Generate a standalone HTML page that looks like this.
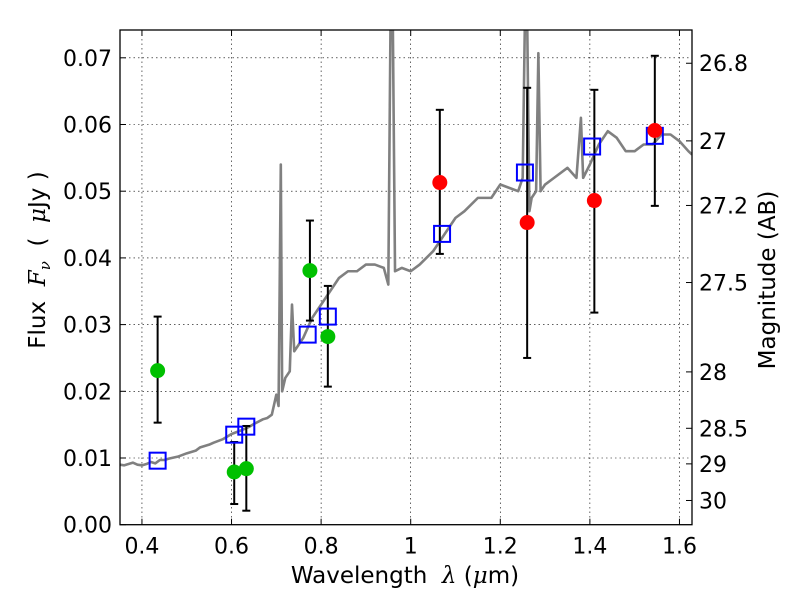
<!DOCTYPE html>
<html><head><meta charset="utf-8"><style>
body{margin:0;background:#fff}
svg{display:block;font-family:"DejaVu Sans","Liberation Sans",sans-serif}
</style></head><body>
<svg id="chart" width="800" height="600">
<g id="grid"></g>
<g id="spec"></g>
<g id="marks"></g>
<g id="axes"></g>
<text x="405" y="583" font-size="23" text-anchor="middle">Wavelength&#160;&#160;<tspan font-style="italic" font-family="DejaVu Serif">λ</tspan>&#160;(<tspan font-style="italic" font-family="DejaVu Serif">μ</tspan>m)</text>
<text transform="translate(45,260) rotate(-90)" font-size="23" text-anchor="middle">Flux&#160;&#160;<tspan font-style="italic" font-family="DejaVu Serif">F</tspan><tspan font-style="italic" font-family="DejaVu Serif" font-size="15" dy="5">ν</tspan><tspan dy="-5">&#160;&#160;(&#160;&#160;</tspan><tspan font-style="italic" font-family="DejaVu Serif">μ</tspan>Jy&#160;)</text>
<text transform="translate(775,280) rotate(-90)" font-size="23" text-anchor="middle">Magnitude (AB)</text>
</svg>
<script>
const xTicks=[0.4,0.6,0.8,1,1.2,1.4,1.6];
const xTickLabels=["0.4","0.6","0.8","1","1.2","1.4","1.6"];
const yTicks=[0,0.01,0.02,0.03,0.04,0.05,0.06,0.07];
const yTickLabels=["0.00","0.01","0.02","0.03","0.04","0.05","0.06","0.07"];
const magTicks=[26.8,27,27.2,27.5,28,28.5,29,30];
const magTickLabels=["26.8","27","27.2","27.5","28","28.5","29","30"];
const specWave=[0.35,0.36,0.37,0.38,0.39,0.40,0.41,0.42,0.43,0.44,0.45,0.46,0.48,0.5,0.52,0.53,0.55,0.56,0.58,0.6,0.62,0.64,0.65,0.67,0.68,0.69,0.70,0.705,0.71,0.713,0.72,0.73,0.735,0.74,0.75,0.76,0.78,0.80,0.82,0.84,0.86,0.88,0.9,0.92,0.94,0.95,0.955,0.96,0.965,0.98,1.0,1.02,1.05,1.08,1.1,1.12,1.15,1.18,1.2,1.22,1.24,1.25,1.255,1.26,1.265,1.27,1.28,1.285,1.29,1.3,1.32,1.35,1.37,1.38,1.385,1.4,1.42,1.44,1.46,1.48,1.5,1.52,1.54,1.56,1.58,1.6,1.62,1.628];
const specFlux=[0.0090,0.0089,0.0091,0.0093,0.0090,0.0089,0.0091,0.0094,0.0092,0.0097,0.0097,0.0099,0.0102,0.0107,0.0111,0.0116,0.0120,0.0123,0.0128,0.0136,0.0141,0.0147,0.0151,0.0158,0.0160,0.0165,0.0195,0.0178,0.054,0.020,0.022,0.023,0.033,0.026,0.027,0.028,0.031,0.033,0.035,0.037,0.038,0.038,0.039,0.039,0.0385,0.036,0.076,0.076,0.038,0.0385,0.038,0.039,0.041,0.044,0.046,0.047,0.049,0.049,0.051,0.0505,0.050,0.052,0.076,0.076,0.047,0.049,0.050,0.0707,0.050,0.051,0.052,0.0535,0.052,0.061,0.052,0.054,0.057,0.059,0.058,0.056,0.056,0.057,0.057,0.0585,0.0585,0.0575,0.056,0.0555];
const greenWave=[0.435,0.606,0.633,0.775,0.815];
const greenFlux=[0.0231,0.0079,0.0084,0.0381,0.0282];
const greenHi=[0.0312,0.0124,0.0148,0.0456,0.0358];
const greenLo=[0.0153,0.0031,0.0021,0.0306,0.0207];
const redWave=[1.065,1.26,1.41,1.545];
const redFlux=[0.0513,0.0453,0.0486,0.0591];
const redHi=[0.0622,0.0655,0.0652,0.0703];
const redLo=[0.0406,0.0250,0.0318,0.0478];
const modelWave=[0.435,0.606,0.633,0.77,0.815,1.07,1.255,1.405,1.545];
const modelFlux=[0.0096,0.0135,0.0147,0.0285,0.0312,0.0436,0.0528,0.0567,0.0583];

const L=120,R=692,T=30,B=524.7;
const X0=0.351,X1=1.628,Y0=0,Y1=(B-T)/6670;
const xs=v=>L+(v-X0)/(X1-X0)*(R-L);
const ys=v=>B-(v-Y0)/(Y1-Y0)*(B-T);
const NS="http://www.w3.org/2000/svg";
function mk(tag,attrs,parent){const e=document.createElementNS(NS,tag);for(const k in attrs)e.setAttribute(k,attrs[k]);parent.appendChild(e);return e;}
const grid=document.getElementById('grid'),axes=document.getElementById('axes'),spec=document.getElementById('spec'),marks=document.getElementById('marks');
mk('defs',{},document.getElementById('chart')).innerHTML='<clipPath id="clip"><rect x="120" y="30" width="572" height="494.7"/></clipPath>';
spec.setAttribute('clip-path','url(#clip)');
xTicks.forEach((v,i)=>{const x=xs(v);
 const g=mk('line',{x1:x,x2:x,y1:T,y2:B,stroke:'#000','stroke-width':0.6,'stroke-dasharray':'1.5,3'},grid);
 
 mk('line',{x1:x,x2:x,y1:B,y2:B-6,stroke:'#000'},axes);mk('line',{x1:x,x2:x,y1:T,y2:T+6,stroke:'#000'},axes);
 const t=mk('text',{x:x,y:B+29,'font-size':22,'text-anchor':'middle'},axes);t.textContent=xTickLabels[i];
 });
yTicks.forEach((v,i)=>{const y=ys(v);
 if(i>0){const g=mk('line',{x1:L,x2:R,y1:y,y2:y,stroke:'#000','stroke-width':0.6,'stroke-dasharray':'1.5,3'},grid);
 }
 mk('line',{x1:L,x2:L+6,y1:y,y2:y,stroke:'#000'},axes);
 const t=mk('text',{x:L-8,y:y+8,'font-size':22,'text-anchor':'end'},axes);t.textContent=yTickLabels[i];
 });
magTicks.forEach((m,i)=>{const y=ys(Math.pow(10,(23.9-m)/2.5));
 mk('line',{x1:R-6,x2:R,y1:y,y2:y,stroke:'#000'},axes);
 const t=mk('text',{x:R+7,y:y+8,'font-size':22},axes);t.textContent=magTickLabels[i];
 });
mk('rect',{x:L,y:T,width:R-L,height:B-T,fill:'none',stroke:'#000','stroke-width':1.3},axes);
const sl=mk('polyline',{points:specWave.map((w,i)=>xs(w)+','+ys(specFlux[i])).join(' '),fill:'none',stroke:'#808080','stroke-width':2.6,'stroke-linejoin':'round'},spec);

function errbars(w,hi,lo){w.forEach((v,i)=>{const x=xs(v),y1=ys(hi[i]),y2=ys(lo[i]);
 const l=mk('line',{x1:x,x2:x,y1:y1,y2:y2,stroke:'#000','stroke-width':2},marks);
 
 mk('line',{x1:x-4,x2:x+4,y1:y1,y2:y1,stroke:'#000','stroke-width':2},marks);
 mk('line',{x1:x-4,x2:x+4,y1:y2,y2:y2,stroke:'#000','stroke-width':2},marks);});}
errbars(greenWave,greenHi,greenLo);errbars(redWave,redHi,redLo);
modelWave.forEach((v,i)=>{const r=mk('rect',{x:xs(v)-8,y:ys(modelFlux[i])-8,width:16,height:16,fill:'none',stroke:'#0000ff','stroke-width':2},marks);
 });
greenWave.forEach((v,i)=>{const c=mk('circle',{cx:xs(v),cy:ys(greenFlux[i]),r:7.5,fill:'#00c000'},marks);
 });
redWave.forEach((v,i)=>{const c=mk('circle',{cx:xs(v),cy:ys(redFlux[i]),r:7.5,fill:'#ff0000'},marks);
 });
</script>
</body></html>
